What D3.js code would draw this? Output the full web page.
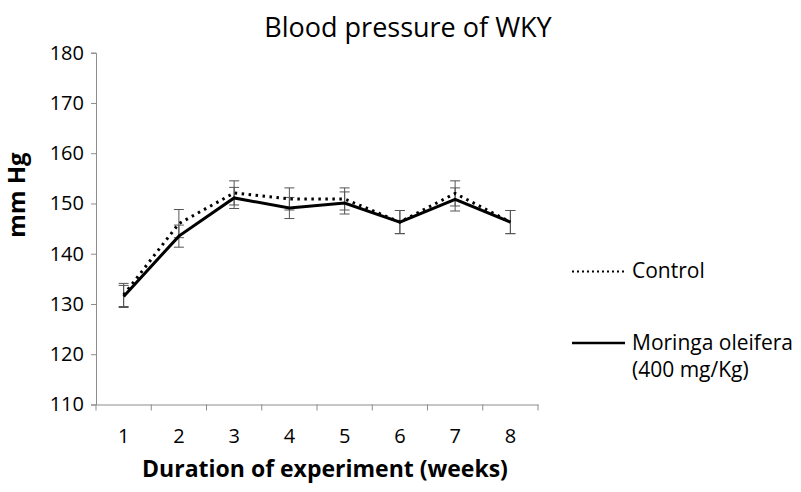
<!DOCTYPE html>
<html>
<head>
<meta charset="utf-8">
<script src="https://cdn.jsdelivr.net/npm/d3@7"></script>
<style>
  body { margin: 0; background: #fff; }
  svg { display: block; }
  text { font-family: "Open Sans", "Noto Sans", sans-serif; fill: #000; }
</style>
</head>
<body>
<svg id="chart" width="801" height="492"></svg>
<script>
const weeks = ["1", "2", "3", "4", "5", "6", "7", "8"];
const controlValues = [131.8, 146.0, 152.1, 150.9, 150.9, 146.3, 152.0, 146.3];
const controlErrors = [2.3, 2.8, 2.4, 2.2, 2.2, 2.3, 2.5, 2.3];
const moringaValues = [131.5, 143.5, 151.1, 149.1, 150.1, 146.3, 150.8, 146.3];
const moringaErrors = [2.2, 2.2, 2.1, 2.1, 2.2, 2.3, 2.3, 2.3];
const yTicks = [110, 120, 130, 140, 150, 160, 170, 180];
const seriesNames = ["Control", "Moringa oleifera"];

(function () {
const svg = d3.select("#chart");
const mLeft = 96, mRight = 538, mTop = 52.7, mBottom = 404.5;

const x = d3.scaleBand().domain(weeks).range([mLeft, mRight]);
const y = d3.scaleLinear().domain([110, 180]).range([mBottom, mTop]);

const axisColor = "#8c8c8c";
const tickFont = "20px";

// Y axis
const yAxis = svg.append("g")
  .attr("transform", `translate(${mLeft},0)`)
  .call(d3.axisLeft(y).tickValues(yTicks).tickSize(5).tickPadding(7).tickFormat(d3.format("d")));
yAxis.select(".domain").attr("stroke", axisColor);
yAxis.selectAll(".tick line").attr("stroke", axisColor);
yAxis.selectAll(".tick text").style("font-size", tickFont).style("font-family", "'Open Sans', sans-serif").attr("fill", "#000");

// X axis
const xAxis = svg.append("g")
  .attr("transform", `translate(0,${mBottom})`)
  .call(d3.axisBottom(x).tickSize(0).tickPadding(24));
xAxis.select(".domain").attr("stroke", axisColor);
xAxis.selectAll(".tick text").style("font-size", tickFont).style("font-family", "'Open Sans', sans-serif").attr("fill", "#000");
const boundaries = weeks.map(w => x(w)).concat([x.range()[1]]);
xAxis.selectAll(".bnd").data(boundaries).enter().append("line")
  .attr("x1", d => d).attr("x2", d => d).attr("y1", 0).attr("y2", 6)
  .attr("stroke", axisColor);

const cx = w => x(w) + x.bandwidth() / 2;

function errorBars(vals, errs, cls) {
  const g = svg.append("g").attr("class", cls).attr("stroke", "#555").attr("stroke-width", 1);
  weeks.forEach((w, i) => {
    const xc = cx(w), hi = y(vals[i] + errs[i]), lo = y(vals[i] - errs[i]);
    g.append("line").attr("x1", xc).attr("x2", xc).attr("y1", hi).attr("y2", lo);
    g.append("line").attr("x1", xc - 5).attr("x2", xc + 5).attr("y1", hi).attr("y2", hi);
    g.append("line").attr("x1", xc - 5).attr("x2", xc + 5).attr("y1", lo).attr("y2", lo);
  });
}
errorBars(controlValues, controlErrors, "err-control");
errorBars(moringaValues, moringaErrors, "err-moringa");

const line = d3.line().x((d, i) => cx(weeks[i])).y(d => y(d));

svg.append("path").datum(controlValues)
  .attr("d", line).attr("fill", "none").attr("stroke", "#000")
  .attr("stroke-width", 3).attr("stroke-dasharray", "2.5,4.5").attr("stroke-linecap", "butt");

svg.append("path").datum(moringaValues)
  .attr("d", line).attr("fill", "none").attr("stroke", "#000")
  .attr("stroke-width", 3);

svg.append("text").attr("x", 408).attr("y", 37).attr("text-anchor", "middle")
  .style("font-size", "27px").text("Blood pressure of WKY");

svg.append("text").attr("transform", "translate(25,195) rotate(-90)").attr("text-anchor", "middle")
  .style("font-size", "24px").style("font-weight", "bold").text("mm Hg");
svg.append("text").attr("x", 325).attr("y", 477).attr("text-anchor", "middle")
  .style("font-size", "23px").style("font-weight", "bold").text("Duration of experiment (weeks)");

const lg = svg.append("g");
lg.append("line").attr("x1", 572).attr("x2", 625).attr("y1", 271.5).attr("y2", 271.5)
  .attr("stroke", "#000").attr("stroke-width", 2).attr("stroke-dasharray", "2,3");
lg.append("text").attr("x", 632).attr("y", 278).style("font-size", "21px").text(seriesNames[0]);
lg.append("line").attr("x1", 572).attr("x2", 625).attr("y1", 343).attr("y2", 343)
  .attr("stroke", "#000").attr("stroke-width", 2.5);
lg.append("text").attr("x", 632).attr("y", 350).style("font-size", "21px").text(seriesNames[1]);
lg.append("text").attr("x", 632).attr("y", 377).style("font-size", "21px").text("(400 mg/Kg)");
})();
</script>
</body>
</html>
